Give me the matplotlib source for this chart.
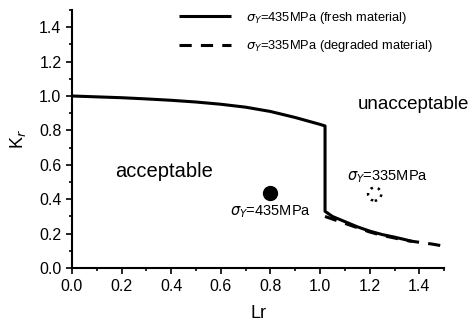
import matplotlib
matplotlib.use("Agg")
import matplotlib.pyplot as plt
from matplotlib.ticker import MultipleLocator

plt.rcParams['font.family'] = ['Liberation Sans', 'DejaVu Sans']

# failure assessment curves
lr_fresh = [0.0, 0.1, 0.2, 0.3, 0.4, 0.5, 0.6, 0.7, 0.8, 0.9, 1.0, 1.02, 1.02, 1.05, 1.1, 1.15, 1.2, 1.25, 1.3, 1.35, 1.37]
kr_fresh = [1.0, 0.995, 0.99, 0.983, 0.975, 0.965, 0.952, 0.935, 0.91, 0.875, 0.835, 0.826, 0.33, 0.30, 0.27, 0.24, 0.215, 0.195, 0.18, 0.163, 0.155]
lr_degr = [1.02, 1.05, 1.1, 1.15, 1.2, 1.25, 1.3, 1.35, 1.4, 1.45, 1.49]
kr_degr = [0.30, 0.285, 0.26, 0.235, 0.21, 0.19, 0.175, 0.16, 0.15, 0.14, 0.13]

# assessment points
pt_fresh = (0.8, 0.435)
pt_degr = (1.22, 0.43)

fig = plt.figure(figsize=(4.7, 3.31), dpi=100)
ax = fig.add_axes([0.153, 0.19, 0.792, 0.78])

ax.plot(lr_fresh, kr_fresh, color='black', lw=2.2, solid_capstyle='butt',
        label=r'$\sigma_Y$=435MPa (fresh material)')
ax.plot(lr_degr, kr_degr, color='black', lw=2.2, ls=(0, (4, 3)),
        label=r'$\sigma_Y$=335MPa (degraded material)')

ax.scatter([pt_fresh[0]], [pt_fresh[1]], s=100, color='black', zorder=3)
ax.scatter([pt_degr[0]], [pt_degr[1]], s=90, facecolors='none',
           edgecolors='black', linewidths=1.8, linestyles=(0, (1, 2)), zorder=3)

ax.text(0.8, 0.33, r'$\sigma_Y$=435MPa', ha='center', va='center', fontsize=10.5)
ax.text(1.27, 0.53, r'$\sigma_Y$=335MPa', ha='center', va='center', fontsize=10.5)
ax.text(0.37, 0.56, 'acceptable', ha='center', va='center', fontsize=14.5)
ax.text(1.375, 0.95, 'unacceptable', ha='center', va='center', fontsize=13.5)

ax.set_xlim(0, 1.5)
ax.set_ylim(0, 1.5)
ax.xaxis.set_minor_locator(MultipleLocator(0.1))
ax.yaxis.set_minor_locator(MultipleLocator(0.1))
ax.set_xticks([0, 0.2, 0.4, 0.6, 0.8, 1.0, 1.2, 1.4])
ax.set_yticks([0, 0.2, 0.4, 0.6, 0.8, 1.0, 1.2, 1.4])
ax.xaxis.set_major_formatter(plt.FormatStrFormatter('%.1f'))
ax.yaxis.set_major_formatter(plt.FormatStrFormatter('%.1f'))
ax.tick_params(which='both', direction='out', labelsize=11.5, width=1.2)
ax.tick_params(which='major', length=4)
ax.tick_params(which='minor', length=2.5)
for s in ['top', 'right']:
    ax.spines[s].set_visible(False)
for s in ['left', 'bottom']:
    ax.spines[s].set_linewidth(1.5)

ax.set_xlabel('Lr', fontsize=13, labelpad=8)
ax.set_ylabel(r'K$_r$', fontsize=13, labelpad=8)

ax.legend(loc='upper right', frameon=False, fontsize=9.3, handlelength=4.0,
          handletextpad=1.15, bbox_to_anchor=(1.0, 1.045), labelspacing=0.95)

fig.savefig('out.png', dpi=100)
